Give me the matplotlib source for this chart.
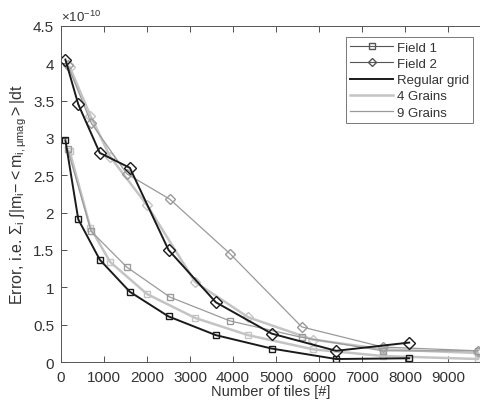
import matplotlib
matplotlib.use('Agg')
import matplotlib.pyplot as plt
from matplotlib.lines import Line2D

plt.rcParams['font.family'] = ['Liberation Sans', 'DejaVu Sans']
plt.rcParams['mathtext.fontset'] = 'custom'
plt.rcParams['mathtext.rm'] = 'Liberation Sans'
plt.rcParams['mathtext.it'] = 'Liberation Sans'

# tiles for the regular grid
tiles_reg = [100, 400, 900, 1600, 2500, 3600, 4900, 6400, 8100]
f1_reg = [2.97, 1.91, 1.37, 0.94, 0.61, 0.36, 0.18, 0.04, 0.05]
f2_reg = [4.05, 3.45, 2.80, 2.60, 1.50, 0.80, 0.38, 0.15, 0.26]

# tiles for the grain meshes
tiles_4g = [200, 680, 1140, 2000, 3120, 4350, 5860, 7490, 9700]
f1_4g = [2.82, 1.80, 1.34, 0.91, 0.59, 0.36, 0.17, 0.08, 0.04]
f2_4g = [3.95, 3.30, 2.75, 2.10, 1.07, 0.60, 0.30, 0.17, 0.12]

tiles_9g = [150, 700, 1530, 2530, 3930, 5600, 7490, 9700]
f1_9g = [2.85, 1.75, 1.27, 0.87, 0.55, 0.33, 0.15, 0.15]
f2_9g = [3.98, 3.20, 2.52, 2.18, 1.45, 0.47, 0.20, 0.15]

c_reg = '#1a1a1a'
c_4g = '#c4c4c4'
c_9g = '#9a9a9a'
txt = '#333333'

fig = plt.figure(figsize=(4.81, 4.02), dpi=100)
ax = fig.add_axes([0.127, 0.097, 0.873, 0.836])

ms = 5
ax.plot(tiles_4g, f1_4g, color=c_4g, lw=1.8, marker='s', ms=ms, mfc='none')
ax.plot(tiles_4g, f2_4g, color=c_4g, lw=1.8, marker='D', ms=ms, mfc='none')
ax.plot(tiles_9g, f1_9g, color=c_9g, lw=0.9, marker='s', ms=ms, mfc='none')
ax.plot(tiles_9g, f2_9g, color=c_9g, lw=0.9, marker='D', ms=ms, mfc='none')
ax.plot(tiles_reg, f1_reg, color=c_reg, lw=1.4, marker='s', ms=ms, mfc='none')
ax.plot(tiles_reg, f2_reg, color=c_reg, lw=1.4, marker='D', ms=ms + 1, mfc='none')

ax.set_xlim(0, 9770)
ax.set_ylim(0, 4.5)
ax.set_xticks(range(0, 10000, 1000))
ax.set_yticks([0, 0.5, 1, 1.5, 2, 2.5, 3, 3.5, 4, 4.5])
ax.set_yticklabels(['0', '0.5', '1', '1.5', '2', '2.5', '3', '3.5', '4', '4.5'])
ax.tick_params(direction='in', top=True, right=False, labelsize=11,
               colors=txt, length=4, width=0.6)
ax.tick_params(axis='x', pad=6)
ax.tick_params(axis='y', pad=5)
for s in ['left', 'bottom', 'top']:
    ax.spines[s].set_color('#555555')
    ax.spines[s].set_linewidth(0.7)
ax.spines['right'].set_visible(False)

ax.set_xlabel('Number of tiles [#]', fontsize=10.5, color=txt, labelpad=0)
ax.set_ylabel(r'Error, i.e. $\Sigma_i\ \int|m_i\!-\!<m_{i,\mu mag}>|dt$',
              fontsize=11.5, color=txt, labelpad=3)
ax.text(0.0, 1.005, r'$\times10^{-10}$', transform=ax.transAxes,
        fontsize=9.5, color=txt, va='bottom', ha='left')

handles = [
    Line2D([], [], color='#555555', lw=0.8, marker='s', ms=4, mfc='none'),
    Line2D([], [], color='#555555', lw=0.8, marker='D', ms=4, mfc='none'),
    Line2D([], [], color=c_reg, lw=1.4),
    Line2D([], [], color=c_4g, lw=1.8),
    Line2D([], [], color=c_9g, lw=0.9),
]
labels = ['Field 1', 'Field 2', 'Regular grid', '4 Grains', '9 Grains']
leg = ax.legend(handles, labels, loc='upper right', bbox_to_anchor=(0.988, 0.975),
                fontsize=9.5, frameon=True, fancybox=False, handlelength=3.2,
                handletextpad=0.3, borderpad=0.35, labelspacing=0.3,
                borderaxespad=0.2)
leg.get_frame().set_edgecolor('#555555')
leg.get_frame().set_linewidth(0.7)
for t in leg.get_texts():
    t.set_color(txt)

fig.savefig('out.png', dpi=100)
